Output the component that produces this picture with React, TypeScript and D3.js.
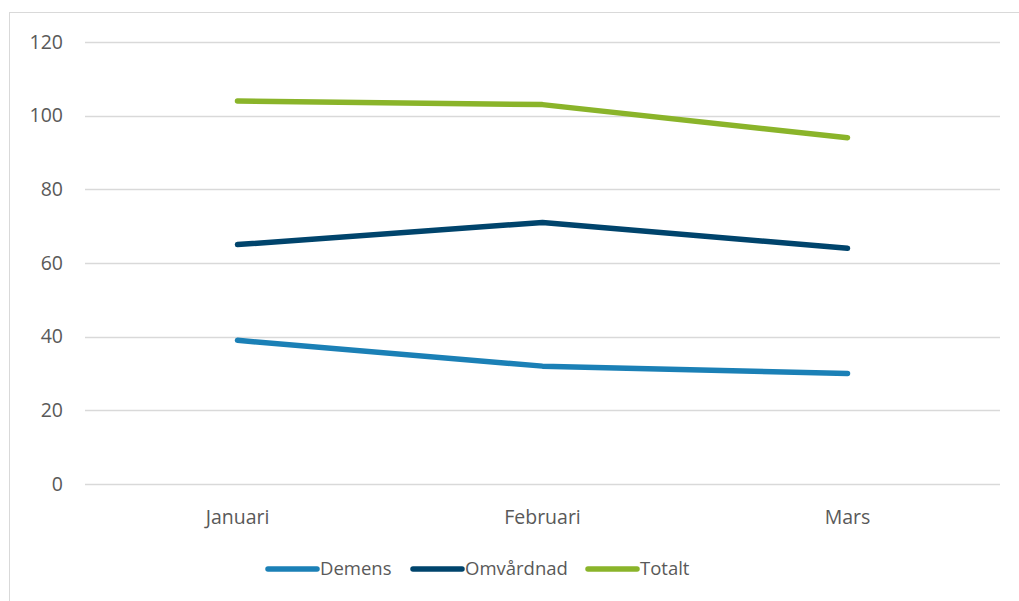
import { useEffect, useRef } from 'react';
import * as d3 from 'd3';

const months = ['Januari', 'Februari', 'Mars'];
const demens = [39, 32, 30];
const omvardnad = [65, 71, 64];
const totalt = [104, 103, 94];
const yTicks = [0, 20, 40, 60, 80, 100, 120];

const series = [
  { name: 'Demens', values: demens, color: '#1b80b6' },
  { name: 'Omvårdnad', values: omvardnad, color: '#00446c' },
  { name: 'Totalt', values: totalt, color: '#8ab42a' },
];

const App = () => {
  const ref = useRef<SVGSVGElement>(null);

  useEffect(() => {
    if (!ref.current) return;
    const svg = d3.select(ref.current);
    svg.selectAll('*').remove();
    const font = '"Open Sans", sans-serif';

    // chart frame
    svg.append('rect')
      .attr('x', 9.5).attr('y', 12.5)
      .attr('width', 1030).attr('height', 620)
      .attr('fill', '#fff').attr('stroke', '#d9d9d9');

    const x = d3.scaleBand().domain(months).range([85, 1000]);
    const y = d3.scaleLinear().domain([0, 120]).range([484, 42]);

    // gridlines
    svg.append('g').selectAll('line')
      .data(yTicks)
      .enter()
      .append('line')
      .attr('x1', 85).attr('x2', 1000)
      .attr('y1', d => Math.round(y(d)) + 0.5)
      .attr('y2', d => Math.round(y(d)) + 0.5)
      .attr('stroke', '#d9d9d9').attr('stroke-width', 1.3);

    // y labels
    svg.append('g').selectAll('text')
      .data(yTicks)
      .enter()
      .append('text')
      .attr('x', 63)
      .attr('y', d => y(d))
      .attr('dy', '0.35em')
      .attr('text-anchor', 'end')
      .style('font-family', font).style('font-size', '19.5px')
      .attr('fill', '#595959')
      .text(d => d);

    // x labels
    svg.append('g').selectAll('text')
      .data(months)
      .enter()
      .append('text')
      .attr('x', d => (x(d) || 0) + x.bandwidth() / 2)
      .attr('y', 524)
      .attr('text-anchor', 'middle')
      .style('font-family', font).style('font-size', '19.5px')
      .attr('fill', '#595959')
      .text(d => d);

    const line = d3.line<number>()
      .x((_, i) => (x(months[i]) || 0) + x.bandwidth() / 2)
      .y(d => y(d));

    series.forEach(s => {
      svg.append('path')
        .datum(s.values)
        .attr('d', line)
        .attr('fill', 'none')
        .attr('stroke', s.color)
        .attr('stroke-width', 5.5)
        .attr('stroke-linecap', 'round')
        .attr('stroke-linejoin', 'round');
    });

    // legend
    const legendX = [268, 413, 588];
    series.forEach((s, i) => {
      const g = svg.append('g').attr('transform', `translate(${legendX[i]},569)`);
      g.append('line')
        .attr('x1', 0).attr('x2', 49)
        .attr('stroke', s.color).attr('stroke-width', 5.5)
        .attr('stroke-linecap', 'round');
      g.append('text')
        .attr('x', 52).attr('dy', '0.35em')
        .style('font-family', font).style('font-size', '18.5px')
        .attr('fill', '#595959')
        .text(s.name);
    });
  }, []);

  return (
    <svg ref={ref} width={1019} height={601}
      style={{ position: 'absolute', left: 0, top: 0, background: '#fff' }} />
  );
};

export default App;
